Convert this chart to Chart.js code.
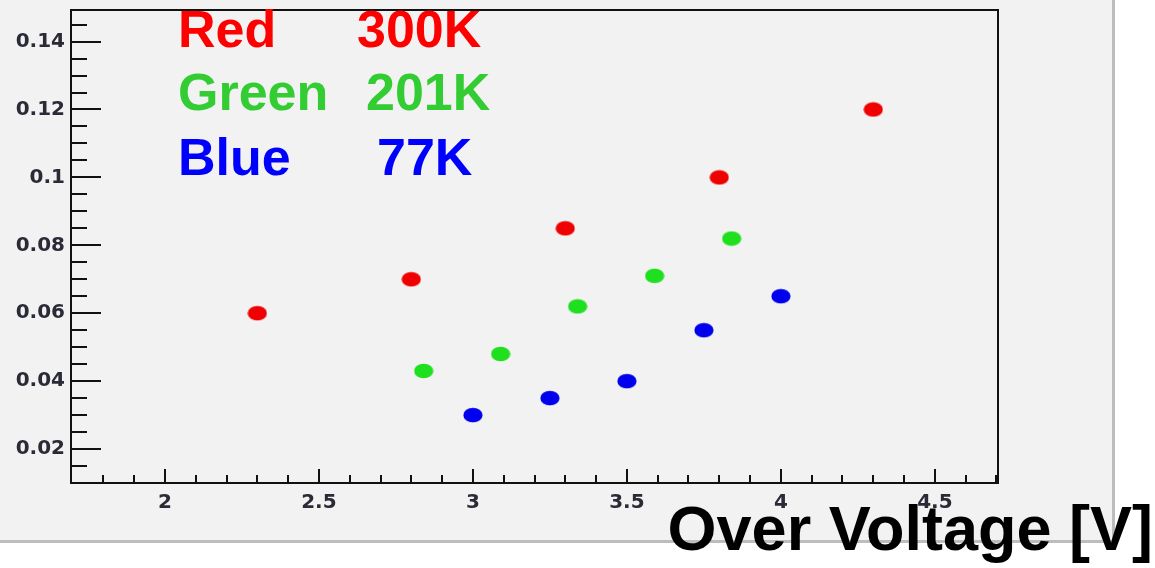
<!DOCTYPE html>
<html>
<head>
<meta charset="utf-8">
<script src="https://cdn.jsdelivr.net/npm/chart.js@4/dist/chart.umd.min.js"></script>
<style>
  html, body { margin: 0; padding: 0; background: #ffffff; }
  #wrap { position: relative; width: 1155px; height: 568px; }
</style>
</head>
<body>
<div id="wrap"><canvas id="c"></canvas></div>
<script>
// ---- data ----
const redX   = [2.3, 2.8, 3.3, 3.8, 4.3];
const redY   = [0.060, 0.070, 0.085, 0.100, 0.120];
const greenX = [2.84, 3.09, 3.34, 3.59, 3.84];
const greenY = [0.043, 0.048, 0.062, 0.071, 0.082];
const blueX  = [3.0, 3.25, 3.5, 3.75, 4.0];
const blueY  = [0.030, 0.035, 0.040, 0.055, 0.065];

const xTickValues = [2, 2.5, 3, 3.5, 4, 4.5];
const xTickLabels = ['2', '2.5', '3', '3.5', '4', '4.5'];
const yTickValues = [0.02, 0.04, 0.06, 0.08, 0.10, 0.12, 0.14];
const yTickLabels = ['0.02', '0.04', '0.06', '0.08', '0.1', '0.12', '0.14'];

const legendRows = [
  { name: 'Red',   temp: '300K', color: '#ff0000' },
  { name: 'Green', temp: '201K', color: '#33cc33' },
  { name: 'Blue',  temp: '77K',  color: '#0000ff' }
];
const axisTitle = 'Over Voltage [V]';

// ---- styling helpers ----
function ellipseMarker(color) {
  const cv = document.createElement('canvas');
  cv.width = 20; cv.height = 16;
  const c = cv.getContext('2d');
  c.fillStyle = color;
  c.beginPath();
  c.ellipse(10, 8, 9.6, 7.3, 0, 0, Math.PI * 2);
  c.fill();
  return cv;
}
function pts(xs, ys) { return xs.map((x, i) => ({ x: x, y: ys[i] })); }

const bgPlugin = {
  id: 'bg',
  beforeDraw(chart) {
    const ctx = chart.ctx;
    ctx.save();
    ctx.fillStyle = '#ffffff';
    ctx.fillRect(0, 0, chart.width, chart.height);
    ctx.fillStyle = '#f2f2f2';
    ctx.fillRect(0, 0, 1112, 540);
    ctx.strokeStyle = '#bdbdbd';
    ctx.lineWidth = 3;
    ctx.beginPath();
    ctx.moveTo(1113.5, 0); ctx.lineTo(1113.5, 541.5); ctx.lineTo(0, 541.5);
    ctx.stroke();
    ctx.restore();
  }
};

function range(a, b, step) {
  const out = [];
  const n = Math.round((b - a) / step);
  for (let i = 0; i <= n; i++) out.push(+(a + i * step).toFixed(4));
  return out;
}

const framePlugin = {
  id: 'frame',
  afterDraw(chart) {
    const ctx = chart.ctx;
    const ca = chart.chartArea;
    const xs = chart.scales.x, ys = chart.scales.y;
    ctx.save();
    ctx.strokeStyle = '#111111';
    ctx.lineWidth = 2;
    // frame top & right
    ctx.beginPath();
    ctx.moveTo(ca.left, ca.top); ctx.lineTo(ca.right, ca.top); ctx.lineTo(ca.right, ca.bottom);
    ctx.stroke();
    // x ticks (inward)
    ctx.beginPath();
    range(1.8, 4.7, 0.1).forEach(v => {
      const px = Math.round(xs.getPixelForValue(v));
      const major = xTickValues.some(t => Math.abs(t - v) < 1e-6);
      const len = major ? 14 : 8;
      ctx.moveTo(px, ca.bottom); ctx.lineTo(px, ca.bottom - len);
    });
    // y ticks (inward)
    range(0.015, 0.145, 0.005).forEach(v => {
      const py = Math.round(ys.getPixelForValue(v));
      const major = yTickValues.some(t => Math.abs(t - v) < 1e-6);
      const len = major ? 30 : 16;
      ctx.moveTo(ca.left, py); ctx.lineTo(ca.left + len, py);
    });
    ctx.stroke();

    // legend text
    ctx.font = 'bold 52px "Liberation Sans", Arial, sans-serif';
    ctx.textBaseline = 'alphabetic';
    ctx.textAlign = 'left';
    const baselines = [47, 110, 175];
    const tempX = [357, 366, 377];
    legendRows.forEach((r, i) => {
      ctx.fillStyle = r.color;
      ctx.fillText(r.name, 178, baselines[i]);
      ctx.fillText(r.temp, tempX[i], baselines[i]);
    });
    // axis title
    ctx.fillStyle = '#000000';
    ctx.font = 'bold 63px "Liberation Sans", Arial, sans-serif';
    ctx.textAlign = 'right';
    ctx.fillText(axisTitle, 1153, 550);
    ctx.restore();
  }
};

const tickFont = { family: '"DejaVu Sans", sans-serif', size: 20, weight: 'bold' };

new Chart(document.getElementById('c'), {
  type: 'scatter',
  data: {
    datasets: [
      { label: 'Red 300K', data: pts(redX, redY), pointStyle: ellipseMarker('#f00000'), pointRadius: 9, backgroundColor: '#f00000' },
      { label: 'Green 201K', data: pts(greenX, greenY), pointStyle: ellipseMarker('#1ee01e'), pointRadius: 9, backgroundColor: '#1ee01e' },
      { label: 'Blue 77K', data: pts(blueX, blueY), pointStyle: ellipseMarker('#0000ee'), pointRadius: 9, backgroundColor: '#0000ee' }
    ]
  },
  options: {
    responsive: true,
    maintainAspectRatio: false,
    animation: false,
    events: [],
    layout: { padding: { top: 9, right: 157, left: 0, bottom: 0 } },
    plugins: { legend: { display: false }, tooltip: { enabled: false }, title: { display: false } },
    scales: {
      x: {
        type: 'linear', min: 1.695, max: 4.705,
        afterBuildTicks: s => { s.ticks = xTickValues.map(v => ({ value: v })); },
        afterFit: s => { s.height = 85; s.paddingLeft = 0; s.paddingRight = 0; },
        grid: { display: false, drawTicks: false },
        border: { display: true, color: '#111111', width: 2 },
        ticks: {
          autoSkip: false, maxRotation: 0, padding: 8,
          color: '#2b2b38', font: tickFont,
          callback: (v, i) => xTickLabels[i]
        }
      },
      y: {
        type: 'linear', min: 0.01, max: 0.1493,
        afterBuildTicks: s => { s.ticks = yTickValues.map(v => ({ value: v })); },
        afterFit: s => { s.width = 71; s.paddingTop = 0; s.paddingBottom = 0; },
        grid: { display: false, drawTicks: false },
        border: { display: true, color: '#111111', width: 2 },
        ticks: {
          autoSkip: false, padding: 6,
          color: '#2b2b38', font: tickFont,
          callback: (v, i) => yTickLabels[i]
        }
      }
    }
  },
  plugins: [bgPlugin, framePlugin]
});
</script>
</body>
</html>
